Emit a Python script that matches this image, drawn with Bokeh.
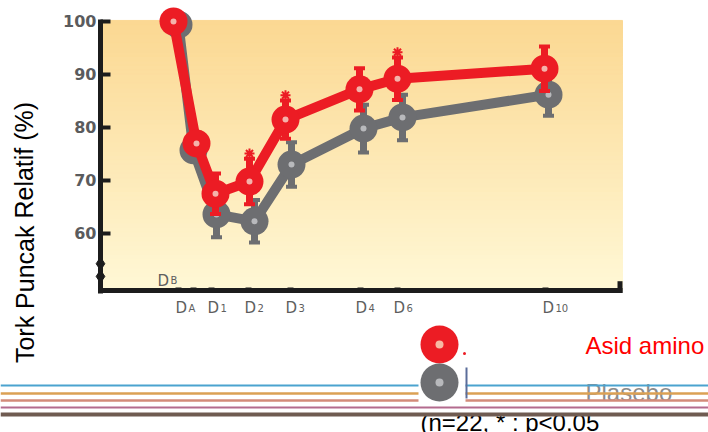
from bokeh.plotting import figure
from bokeh.models import Range1d, LinearAxis, FixedTicker
from bokeh.core.properties import value
from bokeh.embed import file_html
from bokeh.resources import INLINE

# ---------------- data ----------------
time_labels = ["B", "A", "1", "2", "3", "4", "6", "10"]          # subscripts of "D"
tick_pos = [15.6, 18.6, 22.2, 29.6, 38.0, 52.0, 59.4, 89.0]       # tick positions on the time axis
label_left = [11.4, 15.0, 21.4, 28.8, 37.0, 51.0, 58.6, 88.4]     # left edge of each "D" label
x_amino = [14.6, 19.2, 23.0, 29.8, 37.0, 51.8, 59.4, 88.8]
x_plasebo = [15.6, 18.6, 23.2, 30.8, 38.2, 52.6, 60.4, 89.6]
amino = [100.0, 77.0, 67.5, 69.8, 81.5, 87.2, 89.2, 91.1]
amino_err = [0.0, 2.0, 3.8, 4.3, 3.6, 4.0, 4.0, 4.2]
plasebo = [99.4, 75.7, 63.6, 62.3, 73.0, 79.8, 81.9, 86.2]
plasebo_err = [0.0, 2.0, 4.3, 4.0, 4.2, 4.5, 4.3, 4.0]
significant = [False, False, False, True, True, False, True, False]
y_ticks = [60, 70, 80, 90, 100]

RED = "#ec1c24"
GREY = "#6d6e71"
FONT = "Liberation Sans"

p = figure(width=708, height=432, x_range=Range1d(-20, 121.6), y_range=Range1d(22.453, 103.962),
           x_axis_location=None, y_axis_location=None, min_border=0,
           output_backend="svg", toolbar_location=None)
p.outline_line_color = None
p.background_fill_color = "white"
p.border_fill_color = "white"
p.grid.visible = False

# ---- gradient background of the plot area ----
n = 60
y0, y1 = 49.25, 100.2
top_c = (251, 216, 146)
bot_c = (255, 248, 214)
bottoms, tops, cols = [], [], []
for i in range(n):
    b = y0 + (y1 - y0) * i / n
    t = y0 + (y1 - y0) * (i + 1) / n
    f = (i + 0.5) / n
    c = tuple(int(round(bot_c[k] + (top_c[k] - bot_c[k]) * f)) for k in range(3))
    bottoms.append(b); tops.append(t); cols.append("#%02x%02x%02x" % c)
p.quad(left=0.5, right=104.4, bottom=bottoms, top=tops, fill_color=cols, line_color=cols, line_width=1)

# ---- axes ----
yax = LinearAxis(fixed_location=0, ticker=FixedTicker(ticks=y_ticks), bounds=(48.7, 100.3))
yax.axis_line_width = 5
yax.axis_line_color = "#1c1c1c"
yax.major_tick_in = 10
yax.major_tick_out = 0
yax.major_tick_line_width = 4
yax.major_tick_line_color = "#1c1c1c"
yax.minor_tick_line_color = None
yax.major_label_text_font = "DejaVu Sans"
yax.major_label_text_font_style = "bold"
yax.major_label_text_font_size = "16px"
yax.major_label_text_color = "#5a5b5d"
yax.major_label_standoff = 4
p.add_layout(yax, "left")

xax = LinearAxis(fixed_location=49.25, ticker=FixedTicker(ticks=tick_pos), bounds=(-0.5, 104.4))
xax.axis_line_width = 5
xax.axis_line_color = "#1c1c1c"
xax.major_tick_in = 3
xax.major_tick_out = 0
xax.major_tick_line_width = 6
xax.major_tick_line_color = "#1c1c1c"
xax.minor_tick_line_color = None
xax.major_label_text_alpha = 0
p.add_layout(xax, "below")

# right end tick of the x axis
p.segment(x0=[103.9], y0=[48.8], x1=[103.9], y1=[51.0], line_width=5, line_color="#1c1c1c")
# axis break mark
p.scatter(x=[0, 0], y=[54.3, 51.9], marker="diamond", size=13, fill_color="#1c1c1c", line_color="#1c1c1c")

# ---- x labels: "D" + subscript ----
main_y = [51.13] + [45.85] * (len(time_labels) - 1)
p.text(x=label_left, y=main_y, text=["D"] * len(time_labels), text_font=value("DejaVu Sans"),
       text_font_size="15px", text_color="#5e5e5e", text_align="left", text_baseline="alphabetic")
p.text(x=label_left, y=main_y, text=time_labels, text_font=value("DejaVu Sans"),
       text_font_size="10px", text_color="#5e5e5e", text_align="left", text_baseline="alphabetic",
       x_offset=13)


def series(xs, ys, errs, color, dot):
    lo = [v - e for v, e in zip(ys, errs)]
    hi = [v + e for v, e in zip(ys, errs)]
    p.segment(x0=xs, y0=lo, x1=xs, y1=hi, line_width=7, line_color=color)
    p.rect(x=xs + xs, y=lo + hi, width=11, height=4, width_units="screen", height_units="screen",
           fill_color=color, line_color=None)
    p.line(x=xs, y=ys, line_width=10, line_color=color, line_join="round")
    p.scatter(x=xs, y=ys, size=28, fill_color=color, line_color=None)
    p.scatter(x=xs, y=ys, size=6, fill_color=dot, line_color=None)


series(x_plasebo, plasebo, plasebo_err, GREY, "#b8b9bc")
series(x_amino, amino, amino_err, RED, "#f4b3ab")

# significance stars
sx = [x for x, s in zip(x_amino, significant) if s]
sy = [v + e + 1.0 for v, e, s in zip(amino, amino_err, significant) if s]
p.scatter(x=sx, y=sy, marker="asterisk", size=10, line_width=2, line_color=RED)

# ---- y axis title ----
p.text(x=[-15.2], y=[60.19], text=["Tork Puncak Relatif (%)"], angle=1.5708,
       text_font=value(FONT), text_font_size="25px", text_color="black",
       text_align="center", text_baseline="middle")

# ---- legend texts ----
p.text(x=[97.0], y=[38.87], text=["Asid amino"], text_font=value(FONT), text_font_size="24px",
       text_color="#ff0000", text_align="left", text_baseline="alphabetic")
p.text(x=[97.0], y=[30.0], text=["Plasebo"], text_font=value(FONT), text_font_size="24px",
       text_color="#8c8c8c", text_align="left", text_baseline="alphabetic")
p.text(x=[64.0], y=[24.3], text=["(n=22,  * : p<0.05"], text_font=value(FONT), text_font_size="24px",
       text_color="black", text_align="left", text_baseline="alphabetic")

# ---- horizontal coloured rules at the bottom ----
rule_y = [31.23, 29.87, 28.55, 27.23, 25.9]
rule_c = ["#4ba3cf", "#dba154", "#d38b7a", "#b36b8e", "#6f5b51"]
rule_w = [2, 2.5, 2.5, 2, 4]
for yy, cc, ww in zip(rule_y, rule_c, rule_w):
    p.hspan(y=[yy], line_color=cc, line_width=ww)

# ---- legend symbols ----
p.quad(left=[63.6], right=[73.0], bottom=[27.74], top=[43.58], fill_color="white", line_color=None)
p.scatter(x=[67.8, 67.8], y=[39.06, 31.89], size=38, fill_color=[RED, GREY], line_color=None)
p.scatter(x=[67.8, 67.8], y=[39.06, 31.89], size=8, fill_color=["#f7b9a3", "#b8b9bc"], line_color=None)
p.scatter(x=[72.8], y=[37.36], size=3, fill_color=RED, line_color=None)
p.segment(x0=[73.2], y0=[34.72], x1=[73.2], y1=[28.87], line_width=2, line_color="#5b6d9a")

open("out.html", "w").write(file_html(p, INLINE))
